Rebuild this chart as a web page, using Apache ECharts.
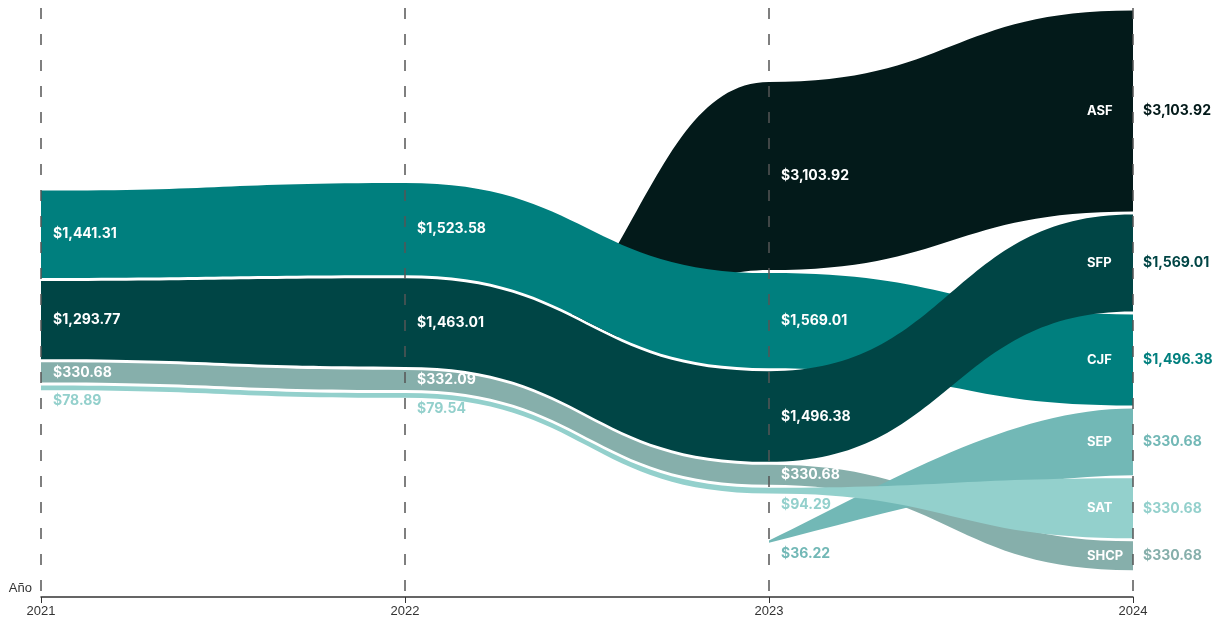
<!DOCTYPE html>
<html>
<head>
<meta charset="utf-8">
<script src="https://cdn.jsdelivr.net/npm/echarts@6/dist/echarts.min.js"></script>
<style>
  html, body { margin: 0; padding: 0; background: #fff; }
  #main { width: 1220px; height: 622px; }
</style>
</head>
<body>
<div id="main"></div>
<script>
// datos (millones de pesos); null = sin dato ese año
const anios = [2021, 2022, 2023, 2024]
const entidades = ['ASF', 'CJF', 'SFP', 'SHCP', 'SEP', 'SAT'] // orden de dibujo
const montosASF = [null, 0, 3103.92, 3317]
const montosCJF = [1441.31, 1523.58, 1569.01, 1502]
const montosSFP = [1293.77, 1463.01, 1496.38, 1600]
const montosSHCP = [330.68, 332.09, 330.68, 478]
const montosSEP = [null, null, 36.22, 1105]
const montosSAT = [78.89, 79.54, 94.29, 990]
// cifras que aparecen rotuladas a la derecha (2024)
const cifras2024 = ['$3,103.92', '$1,496.38', '$1,569.01', '$330.68', '$330.68', '$330.68']

const colores = ['#031a1a', '#007f7e', '#004545', '#86afab', '#72b8b6', '#93d0cc']
const montos = [montosASF, montosCJF, montosSFP, montosSHCP, montosSEP, montosSAT]

// escala vertical: unidades por pixel
const PX = 16.5
const HUECO = 3 * PX
const CENTRO = 4660
const Y_MAX = 9720
const HUECO_EXTRA = { 'SEP-2023': 44 * PX }

// apilado de cada año, de mayor a menor, centrado
const capas = montos.map(() => anios.map(() => null))
const cubre = {} // banda que tapa a una que entra desde cero
anios.forEach((anio, j) => {
  const orden = montos.map((m, i) => i)
    .filter(i => montos[i][j] != null)
    .sort((a, b) => montos[b][j] - montos[a][j])
  const conMonto = orden.filter(i => montos[i][j] > 0)
  const total = conMonto.reduce((s, i) => s + montos[i][j], 0) + HUECO * (conMonto.length - 1)
  let y = CENTRO - total / 2
  orden.forEach(i => {
    y += HUECO_EXTRA[entidades[i] + '-' + anio] || 0
    capas[i][j] = { y0: y, y1: y + montos[i][j] }
    if (montos[i][j] === 0) cubre[i] = orden[0]
    y += montos[i][j] + HUECO
  })
})

function puntos(i, api) {
  const pts = []
  anios.forEach((anio, j) => {
    const c = capas[i][j]
    if (!c) return
    const a = api.coord([anio, c.y0])
    const b = api.coord([anio, c.y1])
    pts.push({ x: a[0], y0: a[1], y1: b[1], v: montos[i][j], j: j })
  })
  return pts
}

function control(p, q, k, nace) {
  const dx = q.x - p.x
  if (p.v === 0) {
    // sale de detras del apilado
    return [p.x + dx * 0.62, p[k], p.x + dx * 0.62, q[k]]
  }
  if (nace) {
    // aparece a mitad del periodo, en cuña
    return [p.x + dx / 3, p[k] + (q[k] - p[k]) * 0.45, q.x - dx / 3, q[k]]
  }
  return [p.x + dx / 2, p[k], q.x - dx / 2, q[k]]
}

function borde(pts, k) {
  let d = ''
  for (let s = 0; s < pts.length - 1; s++) {
    const p = pts[s]
    const q = pts[s + 1]
    const c = control(p, q, k, s === 0 && p.j > 0)
    d += ' C' + c[0] + ' ' + c[1] + ' ' + c[2] + ' ' + c[3] + ' ' + q.x + ' ' + q[k]
  }
  return d
}

function bordeInverso(pts, k) {
  let d = ''
  for (let s = pts.length - 2; s >= 0; s--) {
    const p = pts[s]
    const q = pts[s + 1]
    const c = control(p, q, k, s === 0 && p.j > 0)
    d += ' C' + c[2] + ' ' + c[3] + ' ' + c[0] + ' ' + c[1] + ' ' + p.x + ' ' + p[k]
  }
  return d
}

function dibujarBanda(params, api) {
  const i = params.dataIndex
  const pts = puntos(i, api)
  const ult = pts[pts.length - 1]
  const d = 'M' + pts[0].x + ' ' + pts[0].y0 + borde(pts, 'y0') +
    ' L' + ult.x + ' ' + ult.y1 + bordeInverso(pts, 'y1') + ' Z'
  const el = {
    type: 'path',
    shape: { pathData: d },
    style: { fill: colores[i] }
  }
  if (cubre[i] != null) {
    // solo se ve por encima del borde inferior de la banda que la tapa
    const t = puntos(cubre[i], api)
    const u = t[t.length - 1]
    el.clipPath = {
      type: 'path',
      shape: {
        pathData: 'M' + t[0].x + ' 0 L' + t[0].x + ' ' + t[0].y1 + borde(t, 'y1') +
          ' L' + (u.x + 300) + ' ' + u.y1 + ' L' + (u.x + 300) + ' 0 Z'
      }
    }
  }
  return el
}

function moneda(v) {
  return '$' + v.toLocaleString('en-US', { minimumFractionDigits: 2, maximumFractionDigits: 2 })
}

function texto(t, x, y, color, size) {
  return {
    type: 'text',
    x: x,
    y: y,
    silent: true,
    style: {
      text: t,
      fill: color,
      font: 'bold ' + size + 'px Inter, "Noto Sans", sans-serif',
      textAlign: 'left',
      textVerticalAlign: 'middle',
      align: 'left',
      verticalAlign: 'middle'
    }
  }
}

function dibujarRotulos(params, api) {
  const i = params.dataIndex
  const hijos = []
  puntos(i, api).forEach(p => {
    if (!p.v) return
    const alto = p.y1 - p.y0
    const medio = (p.y0 + p.y1) / 2
    if (p.j === anios.length - 1) {
      hijos.push(texto(entidades[i], p.x - 46, medio, '#fff', 13))
      hijos.push(texto(cifras2024[i], p.x + 10, medio, colores[i], 14))
    } else if (alto >= 14) {
      hijos.push(texto(moneda(p.v), p.x + 12, medio, '#fff', 14))
    } else {
      hijos.push(texto(moneda(p.v), p.x + 12, p.y1 + 11, colores[i], 14))
    }
  })
  return { type: 'group', children: hijos }
}

var myChart = echarts.init(document.getElementById('main'))
var option = {
  animation: false,
  backgroundColor: '#fff',
  grid: { left: 41, right: 87, top: 8, bottom: 25 },
  xAxis: {
    type: 'value',
    position: 'bottom',
    min: 2021,
    max: 2024,
    interval: 1,
    z: 5,
    name: 'Año',
    nameLocation: 'start',
    nameGap: 9,
    nameTextStyle: {
      color: '#333',
      fontSize: 13,
      fontFamily: 'Liberation Sans, Arial, sans-serif',
      verticalAlign: 'bottom',
      padding: [0, 0, 2, 0]
    },
    axisLine: { onZero: false, lineStyle: { color: '#333', width: 1.5 } },
    axisTick: { show: true, length: 6, lineStyle: { color: '#333' } },
    axisLabel: {
      formatter: v => String(v),
      color: '#333',
      fontSize: 13,
      fontFamily: 'Liberation Sans, Arial, sans-serif',
      margin: 8,
      showMinLabel: true,
      showMaxLabel: true
    },
    splitLine: {
      show: true,
      lineStyle: { type: [11, 15], color: '#555', width: 1.5 }
    }
  },
  yAxis: { type: 'value', inverse: true, min: 0, max: Y_MAX, show: false },
  series: [
    {
      type: 'custom',
      z: 1,
      silent: true,
      renderItem: dibujarBanda,
      encode: { x: 0, y: 1 },
      data: entidades.map(() => [anios[0], 0])
    },
    {
      type: 'custom',
      z: 8,
      silent: true,
      renderItem: dibujarRotulos,
      encode: { x: 0, y: 1 },
      data: entidades.map(() => [anios[0], 0])
    }
  ]
}
option && myChart.setOption(option)
</script>
</body>
</html>
